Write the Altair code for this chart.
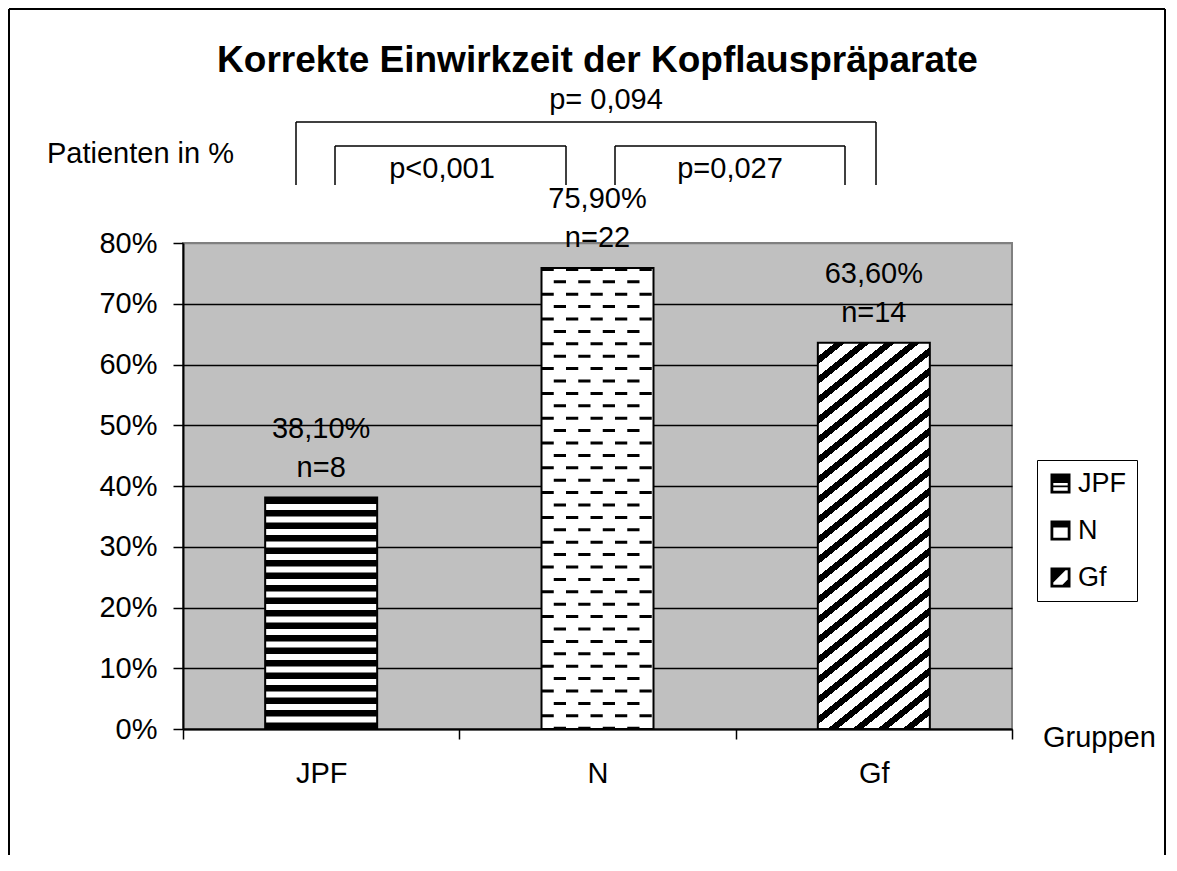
import altair as alt
import pandas as pd

# ---- data -------------------------------------------------------------
groups = ["JPF", "N", "Gf"]
values = [38.1, 75.9, 63.6]
pct_labels = ["38,10%", "75,90%", "63,60%"]
n_labels = ["n=8", "n=22", "n=14"]
y_ticks = [0, 10, 20, 30, 40, 50, 60, 70, 80]

df = pd.DataFrame({"Gruppe": groups, "Wert": values,
                   "Prozent": pct_labels, "n": n_labels})

# ---- style ------------------------------------------------------------
W, H = 829, 486
YMAX = 80
FONT = "Liberation Sans"
BAR_W = 112
FS = 29

x_enc = alt.X("Gruppe:N", sort=groups,
              scale=alt.Scale(domain=groups, paddingInner=0, paddingOuter=0),
              axis=alt.Axis(title=None, labelAngle=0, labelFont=FONT, labelFontSize=FS,
                            labelColor="black", labelPadding=20, tickSize=10,
                            tickColor="black", tickWidth=1.5, domainColor="black",
                            domainWidth=2, tickBand="extent", grid=False))
y_axis = alt.Axis(title=None, values=y_ticks, labelExpr="datum.value + '%'",
                  labelFont=FONT, labelFontSize=FS, labelColor="black",
                  labelPadding=16, tickSize=10, tickColor="black", tickWidth=1.5,
                  domainColor="black", domainWidth=2, grid=True,
                  gridColor={"condition": {"test": "datum.value === 80", "value": "#808080"},
                             "value": "black"},
                  gridWidth=1.5)
y_scale = alt.Scale(domain=[0, YMAX], nice=False)
y_enc = alt.Y("Wert:Q", scale=y_scale, axis=y_axis)

base = alt.Chart(df)

# legend symbols (custom pattern-like icons)
frame_path = "M-1,-1L1,-1L1,1L-1,1Z M-0.72,-0.72L-0.72,0.72L0.72,0.72L0.72,-0.72Z "
sym_paths = [
    frame_path + "M-0.72,-0.72L0.72,-0.72L0.72,-0.05L-0.72,-0.05Z M-0.72,0.2L0.72,0.2L0.72,0.38L-0.72,0.38Z",
    frame_path + "M-0.72,-0.72L0.72,-0.72L0.72,-0.3L-0.72,-0.3Z",
    frame_path + "M-0.72,-0.72L0.5,-0.72L-0.72,0.5Z M0.72,0.2L0.72,0.72L0.2,0.72Z",
]

legend_pts = base.mark_point(
    filled=True, color="black", opacity=1, size=196, yOffset=120
).encode(
    x=x_enc,
    y=y_enc,
    shape=alt.Shape("Gruppe:N", scale=alt.Scale(domain=groups, range=sym_paths),
                    legend=alt.Legend(orient="none", legendX=854, legendY=217, title=None,
                                      labelFont=FONT, labelFontSize=27, labelColor="black",
                                      symbolSize=400, symbolFillColor="black",
                                      symbolStrokeWidth=0, symbolOpacity=1,
                                      strokeColor="black", fillColor="white",
                                      padding=10, rowPadding=19, labelOffset=4,
                                      symbolOffset=0)),
)

white_bars = base.transform_filter("datum.Gruppe != 'Gf'").mark_bar(
    color="white", size=BAR_W).encode(x=x_enc, y=y_enc, y2=alt.datum(0))

# diagonal stripes for Gf via hard-stop linear gradient
gf_val = values[groups.index("Gf")]
bh = gf_val / YMAX * H
t = 0.8           # slope of stripes
per_q = 20.0      # vertical period in px
blk_q = 8.0       # black part of period
Q = t * BAR_W + bh
k = Q / (BAR_W * bh * (t * t / (bh * bh) + 1.0 / (BAR_W * BAR_W)))
gx2 = k * t / bh
gy2 = k / BAR_W
stops = []
q = -per_q * 0.3
while q < Q:
    a = max(q, 0.0) / Q
    b = min(max(q + blk_q, 0.0), Q) / Q
    c = min(q + per_q, Q) / Q
    stops += [alt.GradientStop(offset=a, color="black"),
              alt.GradientStop(offset=b, color="black"),
              alt.GradientStop(offset=b, color="white"),
              alt.GradientStop(offset=c, color="white")]
    q += per_q
grad = alt.LinearGradient(gradient="linear", stops=stops, x1=0, y1=0, x2=gx2, y2=gy2)

gf_bar = base.transform_filter("datum.Gruppe == 'Gf'").mark_bar(
    fill=grad, size=BAR_W).encode(x=x_enc, y=y_enc, y2=alt.datum(0))

# horizontal stripes for JPF
jpf_stripes = base.transform_filter("datum.Gruppe == 'JPF'").mark_rule(
    stroke="black", strokeWidth=BAR_W, strokeDash=[6.5, 6]
).encode(x=x_enc, y=y_enc, y2=alt.datum(0))

# dashed pattern for N
n_layers = []
col_w = 12.25
for j in range(9):
    off = -BAR_W / 2 + col_w / 2 + j * col_w
    n_layers.append(
        base.transform_filter("datum.Gruppe == 'N'").mark_rule(
            stroke="black", strokeWidth=col_w, strokeDash=[3, 21.8],
            strokeDashOffset=(0 if j % 2 == 0 else 12.4), xOffset=off
        ).encode(x=x_enc, y=y_enc, y2=alt.datum(0))
    )

outline = base.mark_bar(fillOpacity=0, stroke="black", strokeWidth=2, size=BAR_W).encode(
    x=x_enc, y=y_enc, y2=alt.datum(0))

lbl1 = base.mark_text(font=FONT, fontSize=FS, color="black", baseline="alphabetic", dy=-60).encode(
    x=x_enc, y=y_enc, text="Prozent:N")
lbl2 = base.mark_text(font=FONT, fontSize=FS, color="black", baseline="alphabetic", dy=-21).encode(
    x=x_enc, y=y_enc, text="n:N")

# ---- annotations ------------------------------------------------------
one = alt.Chart(alt.Data(values=[{}]))


def txt(s, px, py, size=FS, weight="normal", align="center"):
    return one.mark_text(text=s, font=FONT, fontSize=size, fontWeight=weight, color="black",
                         align=align, baseline="alphabetic").encode(
        x=alt.value(px), y=alt.value(py))


def line(x1, y1, x2, y2, w=1.5):
    return one.mark_rule(color="black", strokeWidth=w).encode(
        x=alt.value(x1), x2=alt.value(x2), y=alt.value(y1), y2=alt.value(y2))


annots = [
    txt("Korrekte Einwirkzeit der Kopflauspräparate", 414.5, -171, size=37, weight="bold"),
    txt("p= 0,094", 423, -134),
    txt("Patienten in %", -136, -80, align="left"),
    txt("p<0,001", 259, -65),
    txt("p=0,027", 547, -65),
    txt("Gruppen", 860, 504, align="left"),
    # brackets
    line(113, -121, 693, -121), line(113, -121, 113, -58), line(693, -121, 693, -58),
    line(152, -97, 383, -97), line(152, -97, 152, -58), line(383, -97, 383, -58),
    line(432, -97, 662, -97), line(432, -97, 432, -58), line(662, -97, 662, -58),
    # outer frame
    line(-174, -234, -174, 640, 2), line(-174, -234, 982, -234, 2), line(982, -234, 982, 640, 2),
]

chart = alt.layer(
    legend_pts, white_bars, gf_bar, jpf_stripes, *n_layers, outline, lbl1, lbl2, *annots
).properties(
    width=W, height=H,
    autosize=alt.AutoSizeParams(type="none"),
    padding={"left": 175, "top": 235, "right": 154, "bottom": 126},
    background="white",
).configure_view(
    fill="#C0C0C0", stroke="#808080", strokeWidth=2
)

chart.save("out.html", embed_options={"renderer": "svg", "actions": False})
